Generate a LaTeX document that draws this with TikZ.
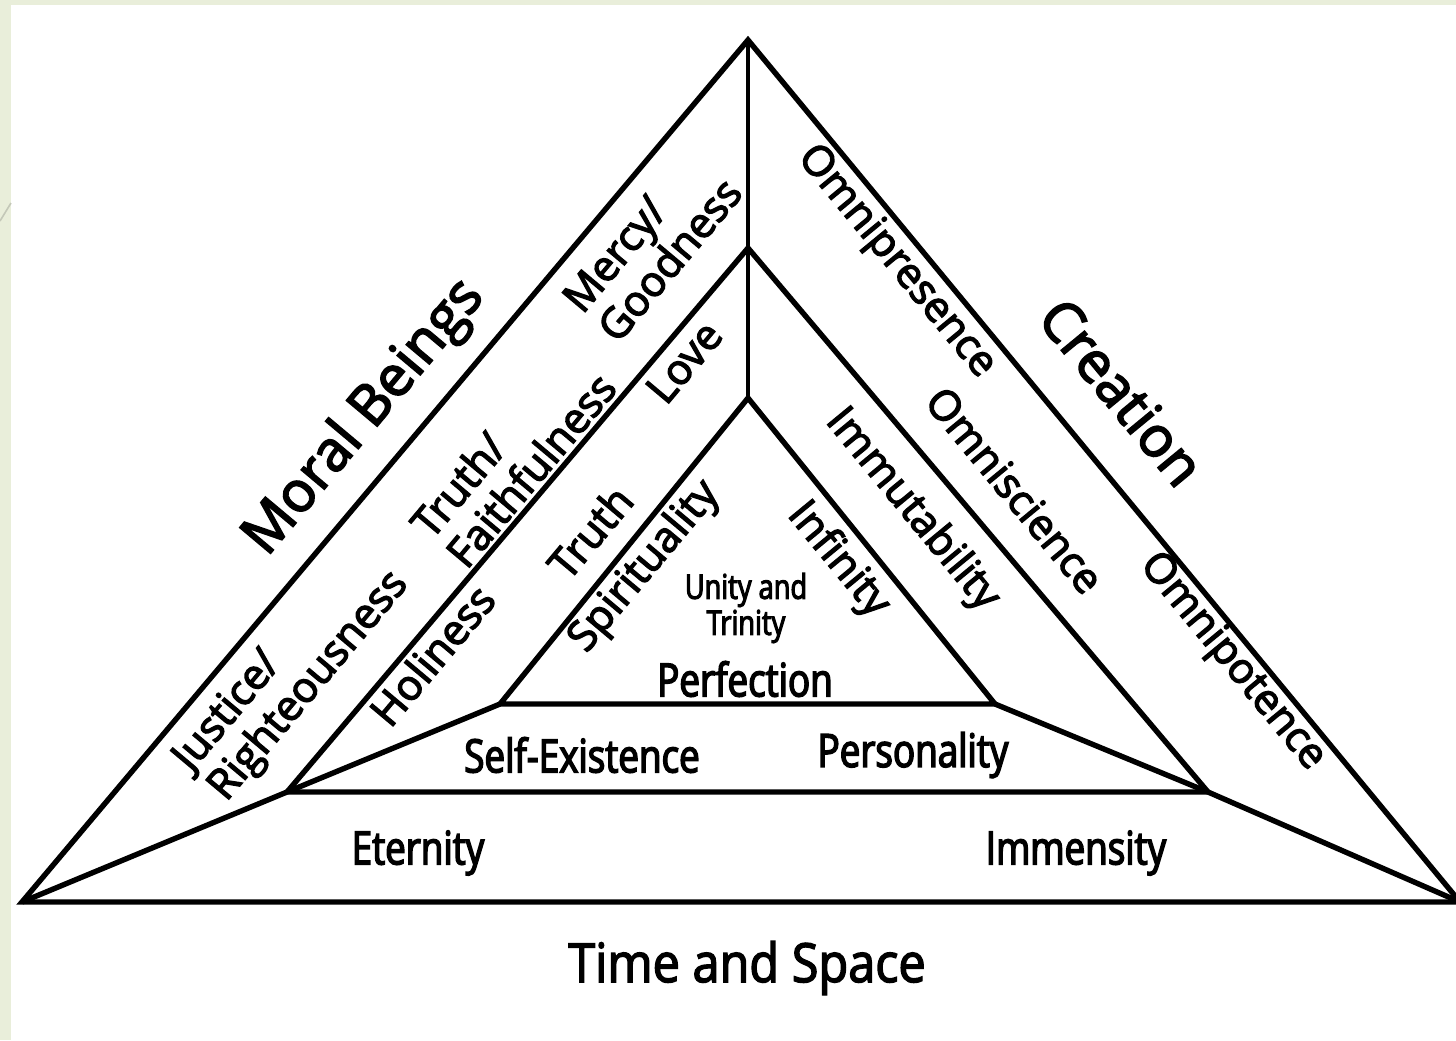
\documentclass[tikz,border=0pt]{standalone}
\usepackage{fontspec}
\setmainfont{Open Sans}[FakeBold=3.2]
\newfontfamily\condfont{Open Sans}[FakeStretch=0.8, FakeBold=3.2]
\newfontfamily\captionfont{Open Sans}[FakeStretch=0.9, FakeBold=2.6]

\definecolor{slidebg}{HTML}{E9EEDA}
\definecolor{slideline}{HTML}{C4C8B8}

\begin{document}
\begin{tikzpicture}[x=0.5pt,y=-0.5pt,
  edge/.style={line width=2.7pt, black, line join=miter, miter limit=20},
  lefttxt/.style={rotate=50, font=\fontsize{21}{23}\selectfont, align=left, inner sep=0pt},
  righttxt/.style={rotate=-50.5, font=\fontsize{21}{23}\selectfont, inner sep=0pt},
  bigleft/.style={rotate=50, font=\fontsize{28}{32}\selectfont, inner sep=0pt},
  bigright/.style={rotate=-50.5, font=\fontsize{28}{32}\selectfont, inner sep=0pt},
  flat/.style={font=\condfont\fontsize{23}{26}\selectfont, inner sep=0pt},
  core/.style={font=\condfont\fontsize{17}{20}\selectfont, align=center, inner sep=0pt}
]
% page and slide frame
\useasboundingbox (0,0) rectangle (1456,1040);
\fill[slidebg] (0,0) rectangle (1456,1040);
\fill[white] (11,5) rectangle (1456,1040);
\draw[slideline, line width=0.8pt] (0,221) -- (11,203);

\begin{scope}
\clip (0,0) rectangle (1456,1040);
% corners of the three nested triangles
\coordinate (oa) at (748,40);
\coordinate (ol) at (22,902);
\coordinate (or) at (1460,902);
\coordinate (ma) at (748,248);
\coordinate (ml) at (287,792);
\coordinate (mr) at (1208,792);
\coordinate (ia) at (748,398);
\coordinate (il) at (500,704);
\coordinate (ir) at (995,704);

\draw[edge] (oa) -- (ol) -- (or) -- cycle;
\draw[edge] (ma) -- (ml) -- (mr) -- cycle;
\draw[edge] (ia) -- (il) -- (ir) -- cycle;
% spokes joining the corners
\draw[edge, line width=2.3pt] (oa) -- (ia);
\draw[edge] (ol) -- (ml) -- (il);
\draw[edge] (or) -- (mr) -- (ir);
\end{scope}

% outer headings
\node[bigleft]  (moral)    at (365,418) {Moral Beings};
\node[bigright] (creation) at (1122,392) {Creation};
\node[font=\captionfont\fontsize{27}{30}\selectfont, inner sep=0pt] (timespace) at (747,968) {Time and Space};

% left band, outer ring
\node[lefttxt] (justice) at (292,672) {Justice/\\Righteousness};
\node[lefttxt] (truthf)  at (513,455) {Truth/\\Faithfulness};
\node[lefttxt] (mercy)   at (652,245) {Mercy/\\Goodness};
% left band, middle ring
\node[lefttxt] (holiness) at (432,655) {Holiness};
\node[lefttxt] (truth)    at (590,532) {Truth};
\node[lefttxt] (love)     at (684,362) {Love};
% left band, inner ring
\node[lefttxt] (spirit)   at (645,567) {Spirituality};

% right band
\node[righttxt] (presence) at (896,262) {Omnipresence};
\node[righttxt] (science)  at (1015,490) {Omniscience};
\node[righttxt] (potence)  at (1232,662) {Omnipotence};
\node[righttxt] (immut)    at (912,510) {Immutability};
\node[righttxt] (infin)    at (838,560) {Infinity};

% centre
\node[core] (unity) at (746,608) {Unity and\\[-2pt]Trinity};
\node[flat] (perfection) at (745,679) {Perfection};

% bottom bands
\node[flat] (selfex)   at (582,755) {Self-Existence};
\node[flat] (person)   at (913,755) {Personality};
\node[flat] (eternity) at (418,853) {Eternity};
\node[flat] (immense)  at (1076,853) {Immensity};
\end{tikzpicture}
\end{document}
